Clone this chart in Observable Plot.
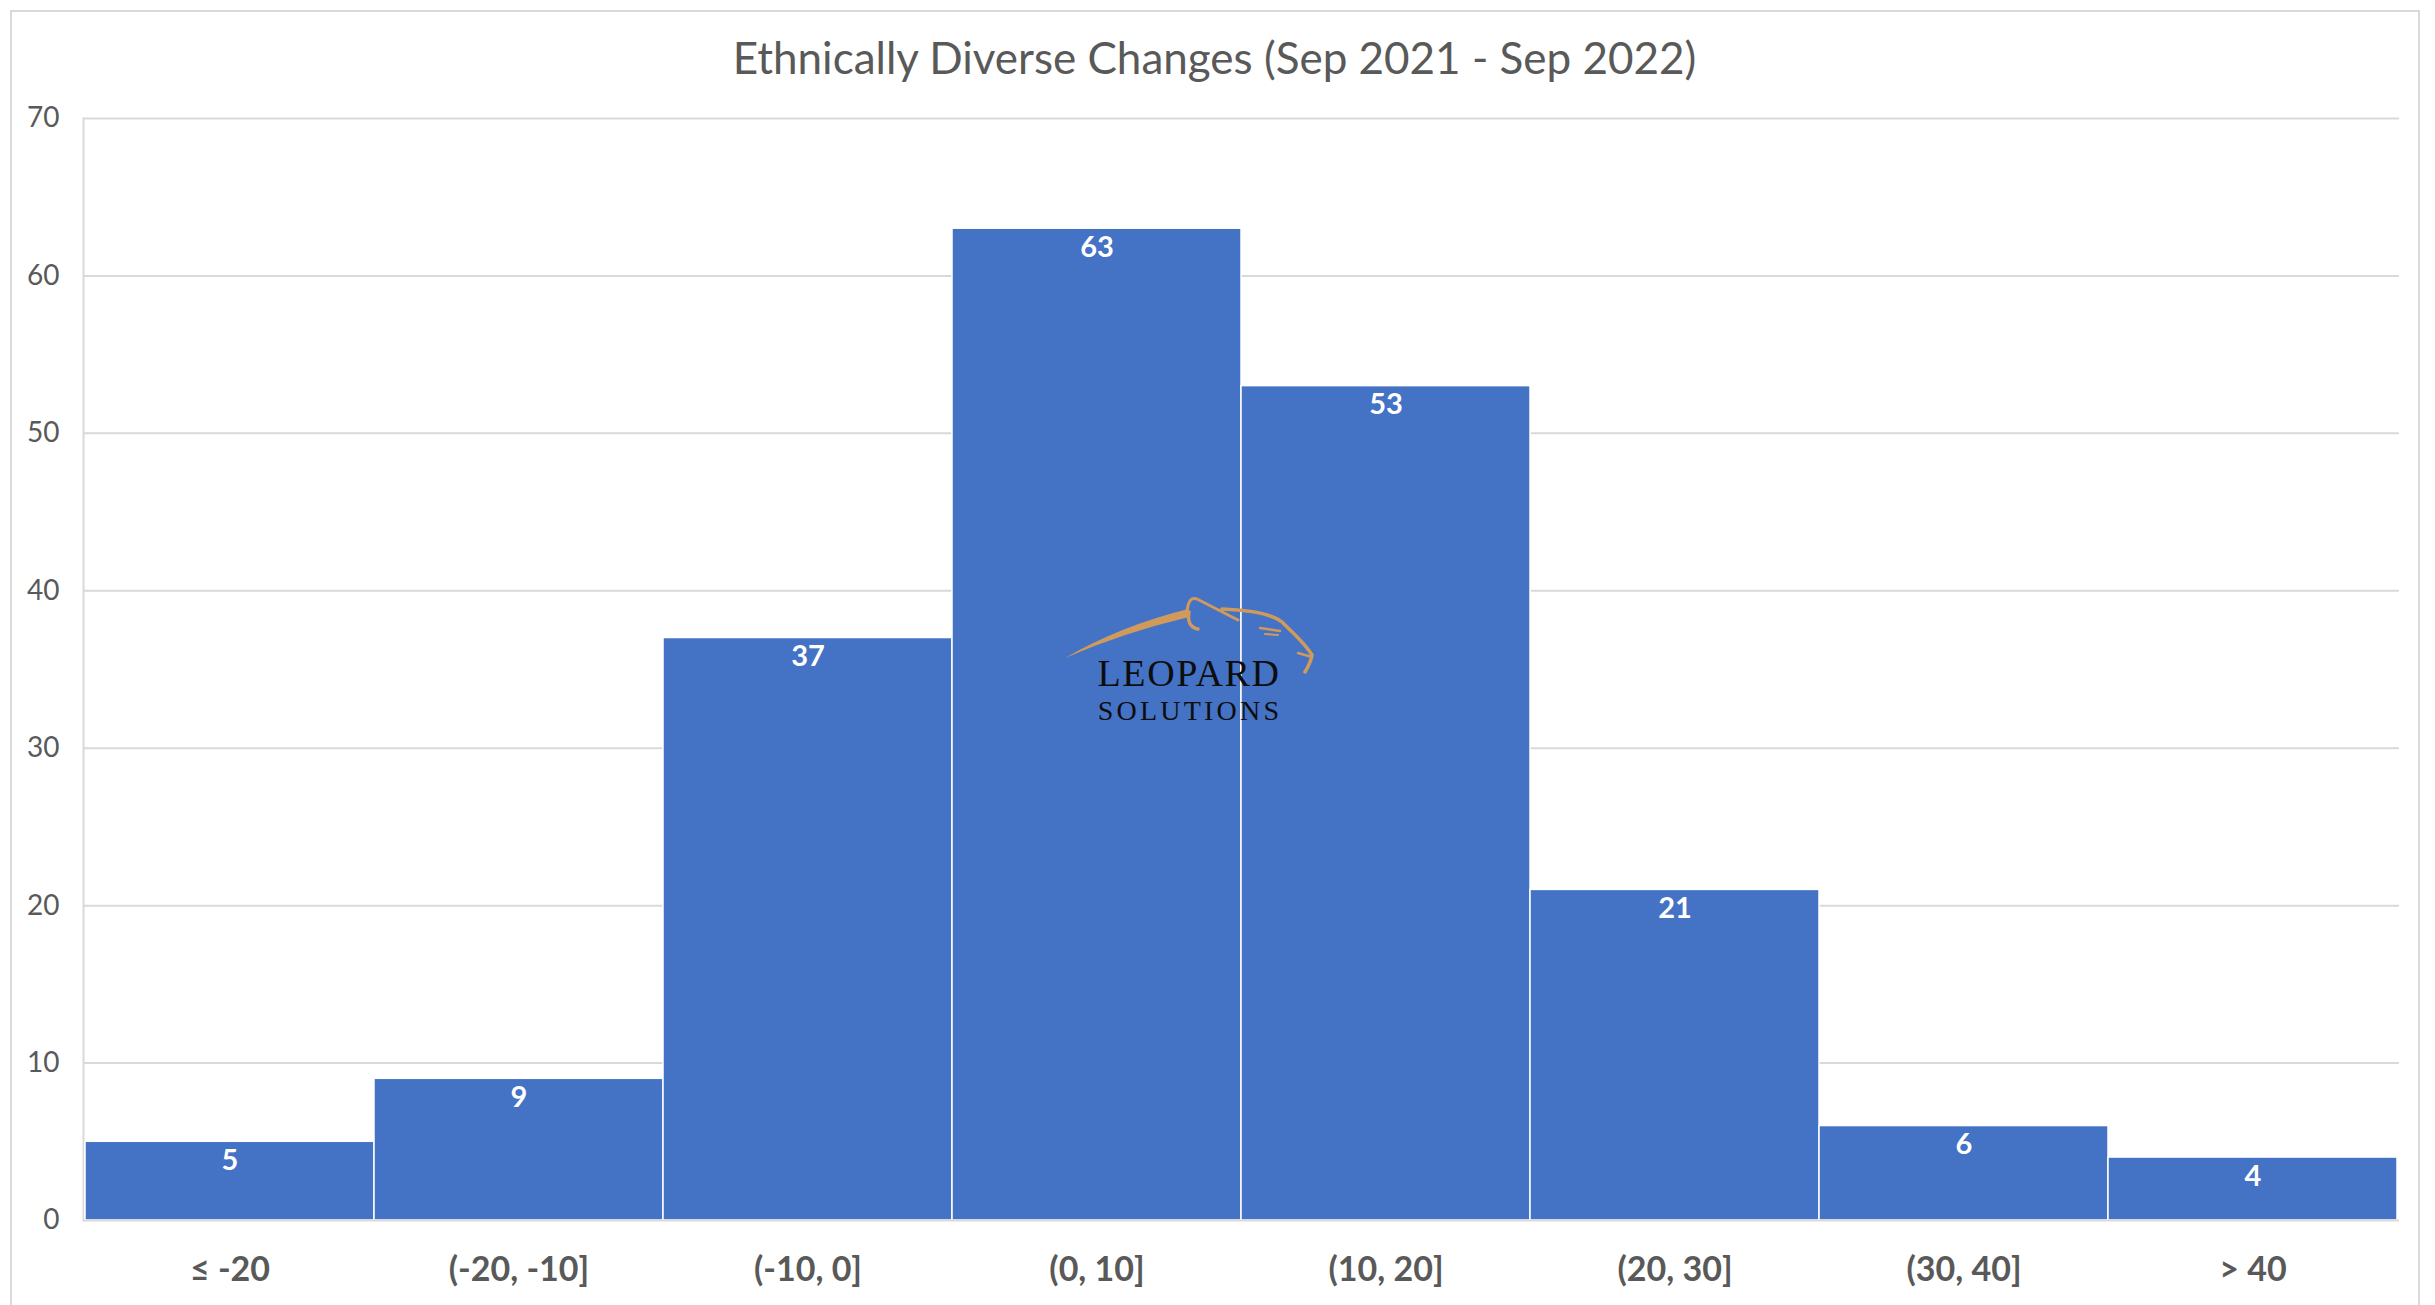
<!DOCTYPE html>
<html>
<head>
<meta charset="utf-8">
<script src="https://cdn.jsdelivr.net/npm/d3@7"></script>
<script src="https://cdn.jsdelivr.net/npm/@observablehq/plot@0.6"></script>
<style>
  html, body { margin: 0; padding: 0; background: #ffffff; }
  #page { position: relative; width: 2435px; height: 1305px; overflow: hidden; }
  #chart { position: absolute; left: 0; top: 0; }
  #border { position: absolute; left: 10px; top: 10px; width: 2410px; height: 1400px;
            border: 2px solid #d9d9d9; box-sizing: border-box; pointer-events: none; }
  #logo { position: absolute; left: 0; top: 0; pointer-events: none; }
</style>
</head>
<body>
<div id="page">
  <div id="chart"></div>
  <div id="border"></div>
  <svg id="logo" width="2435" height="1305" xmlns="http://www.w3.org/2000/svg">
    <!-- leopard outline above the wordmark -->
    <path d="M1065,658 Q1120,626 1188,609 L1189,617 Q1122,633 1065,658 Z" fill="#cf9a5c"/>
    <g fill="none" stroke="#cf9a5c" stroke-linecap="round" stroke-linejoin="round">
      <path d="M1187,612 C1188,600 1192,597 1197,599 L1238,620" stroke-width="3"/>
      <path d="M1189,612 C1187,622 1191,628 1198,629" stroke-width="3.5"/>
      <path d="M1222,609 C1248,610 1272,614 1282,622 C1292,632 1305,643 1312,655 C1311,662 1308,667 1305,672" stroke-width="3.5"/>
      <path d="M1298,653 L1312,657" stroke-width="2.5"/>
      <path d="M1260,628 L1280,631" stroke-width="2.5"/>
      <path d="M1265,634 L1278,635" stroke-width="2"/>
    </g>
    <text x="1189" y="686" text-anchor="middle" font-family="Liberation Serif" font-size="38" fill="#0d0d0d" letter-spacing="1.6">LEOPARD</text>
    <text x="1190" y="720" text-anchor="middle" font-family="Liberation Serif" font-size="28" fill="#0d0d0d" letter-spacing="3.2">SOLUTIONS</text>
  </svg>
</div>
<script>
// Distribution of changes in ethnically diverse share, Sep 2021 – Sep 2022
const title = "Ethnically Diverse Changes (Sep 2021 - Sep 2022)";
const bins = ["≤ -20", "(-20, -10]", "(-10, 0]", "(0, 10]", "(10, 20]", "(20, 30]", "(30, 40]", "> 40"];
const counts = [5, 9, 37, 63, 53, 21, 6, 4];
const yTicks = [0, 10, 20, 30, 40, 50, 60, 70];

const data = bins.map((bin, i) => ({bin, count: counts[i]}));

const textGray = "#595959";
const gridGray = "#d9d9d9";
const barBlue = "#4472c4";

const chart = Plot.plot({
  width: 2435,
  height: 1305,
  marginLeft: 83,
  marginRight: 36,
  marginTop: 118,
  marginBottom: 85,
  style: {fontFamily: "Lato, 'Open Sans', sans-serif", background: "transparent", color: textGray},
  x: {domain: bins, padding: 0, label: null},
  y: {domain: [0, 70], label: null},
  marks: [
    Plot.gridY(yTicks.filter(d => d > 0), {stroke: gridGray, strokeOpacity: 1, strokeWidth: 2}),
    Plot.frame({anchor: "left", stroke: gridGray, strokeWidth: 2}),
    Plot.barY(data, {x: "bin", y: "count", fill: barBlue, stroke: "white", strokeWidth: 1.5}),
    Plot.ruleY([0], {stroke: gridGray, strokeWidth: 2}),
    Plot.axisY({ticks: yTicks, tickSize: 0, tickPadding: 24, fontSize: 28, fill: textGray, label: null}),
    Plot.axisX({tickSize: 0, tickPadding: 36, fontSize: 34, fontWeight: "bold", fill: textGray, label: null}),
    Plot.text(data, {x: "bin", y: "count", text: d => String(d.count), dy: 19, lineAnchor: "middle",
                     fill: "white", fontSize: 29, fontWeight: "bold"}),
    Plot.text([title], {frameAnchor: "top", lineAnchor: "bottom", dy: -45, dx: -27,
                        fontSize: 44, fill: textGray})
  ]
});

document.getElementById("chart").appendChild(chart);
</script>
</body>
</html>
